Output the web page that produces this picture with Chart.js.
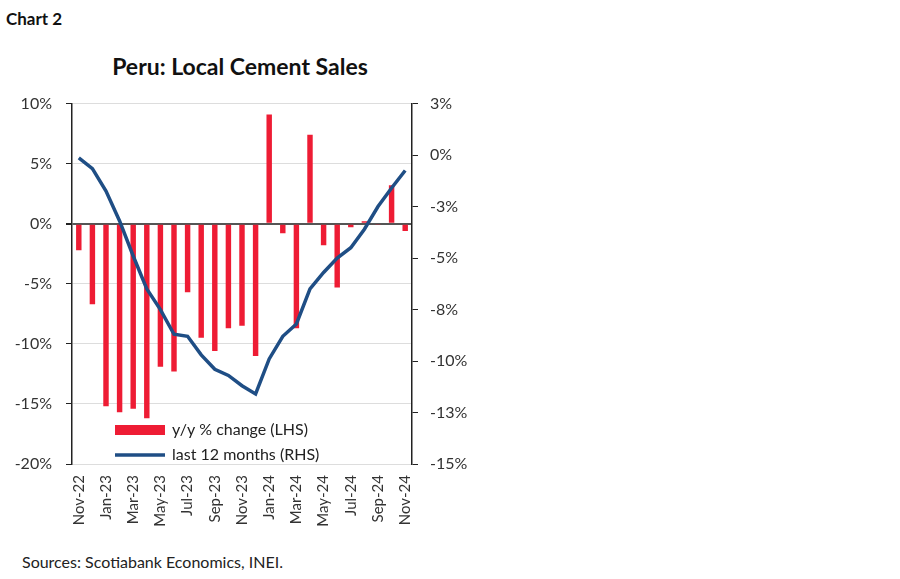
<!DOCTYPE html>
<html><head><meta charset="utf-8">
<script src="https://cdn.jsdelivr.net/npm/chart.js@4"></script>
<style>
body{margin:0;width:900px;height:579px;background:#fff;font-family:Lato,"Open Sans",sans-serif;position:relative;overflow:hidden}
#c2{position:absolute;left:6px;top:8px;font-weight:bold;font-size:17px;color:#111}
#title{position:absolute;left:0;width:480px;top:52px;text-align:center;font-weight:bold;font-size:23px;color:#111}
#src{position:absolute;left:22px;top:552px;font-size:16px;color:#222}
#wrap{position:absolute;left:0;top:80px;width:480px;height:470px}
</style></head><body>
<div id="c2">Chart 2</div>
<div id="title">Peru: Local Cement Sales</div>
<div id="wrap"><canvas id="ch"></canvas></div>
<div id="src">Sources: Scotiabank Economics, INEI.</div>
<script>
const months=["Nov-22","Dec-22","Jan-23","Feb-23","Mar-23","Apr-23","May-23","Jun-23","Jul-23","Aug-23","Sep-23","Oct-23","Nov-23","Dec-23","Jan-24","Feb-24","Mar-24","Apr-24","May-24","Jun-24","Jul-24","Aug-24","Sep-24","Oct-24","Nov-24"];
const yoy=[-2.2,-6.7,-15.2,-15.7,-15.4,-16.2,-11.9,-12.3,-5.7,-9.5,-10.6,-8.7,-8.5,-11.0,9.1,-0.8,-8.7,7.4,-1.8,-5.3,-0.3,0.2,-0.1,3.2,-0.6];
const last12=[-0.14,-0.66,-1.75,-3.2,-4.9,-6.5,-7.5,-8.7,-8.8,-9.7,-10.4,-10.7,-11.2,-11.6,-9.9,-8.8,-8.2,-6.5,-5.7,-5.0,-4.5,-3.6,-2.5,-1.6,-0.75];
const legendItems=["y/y % change (LHS)","last 12 months (RHS)"];
const RED="#EE1C34",BLUE="#1F4E85";
const legendPlugin={id:'lg',afterDraw(c){const x=c.ctx;x.save();
x.fillStyle=RED;x.fillRect(115,345,50,10);
x.strokeStyle=BLUE;x.lineWidth=3.5;x.beginPath();x.moveTo(115,375);x.lineTo(165,375);x.stroke();
x.fillStyle="#222";x.font="16px Lato";x.textBaseline="middle";
x.fillText(legendItems[0],172,350);x.fillText(legendItems[1],172,375);x.restore();}};
new Chart(document.getElementById('ch'),{
data:{labels:months,datasets:[
{type:'line',data:last12,yAxisID:'y1',borderColor:BLUE,borderWidth:3.5,pointRadius:0,tension:0,order:0},
{type:'bar',data:yoy,yAxisID:'y',backgroundColor:RED,barPercentage:0.4,categoryPercentage:1,order:1}]},
options:{responsive:true,maintainAspectRatio:false,animation:false,
layout:{padding:{top:13,bottom:0,left:0,right:0}},
plugins:{legend:{display:false},tooltip:{enabled:false}},
scales:{
x:{grid:{display:false},border:{display:false},afterFit(s){s.height=86},
ticks:{autoSkip:false,maxRotation:90,minRotation:90,color:"#333",font:{size:15,family:"Lato"},callback(v,i){return i%2?'':months[i]}}},
y:{position:'left',min:-20,max:10,afterFit(s){s.width=72},
ticks:{stepSize:5,color:"#333",padding:14,font:{size:16,family:"Lato"},callback:v=>v+'%'},
border:{display:true,color:"#222",width:1.5,dash:[]},
grid:{color:c=>c.tick.value===0?"#555":"#ddd",lineWidth:c=>c.tick.value===0?2:1,tickColor:"#222",tickLength:6,drawTicks:true}},
y1:{position:'right',min:-15,max:2.5,afterFit(s){s.width=68},
ticks:{stepSize:2.5,color:"#333",padding:12,font:{size:16,family:"Lato"},callback:v=>(v<0?'-':'')+Math.round(Math.abs(v))+'%'},
border:{display:true,color:"#222",width:1.5},
grid:{drawOnChartArea:false,tickColor:"#222",tickLength:6}}
}},plugins:[legendPlugin]});
</script></body></html>
